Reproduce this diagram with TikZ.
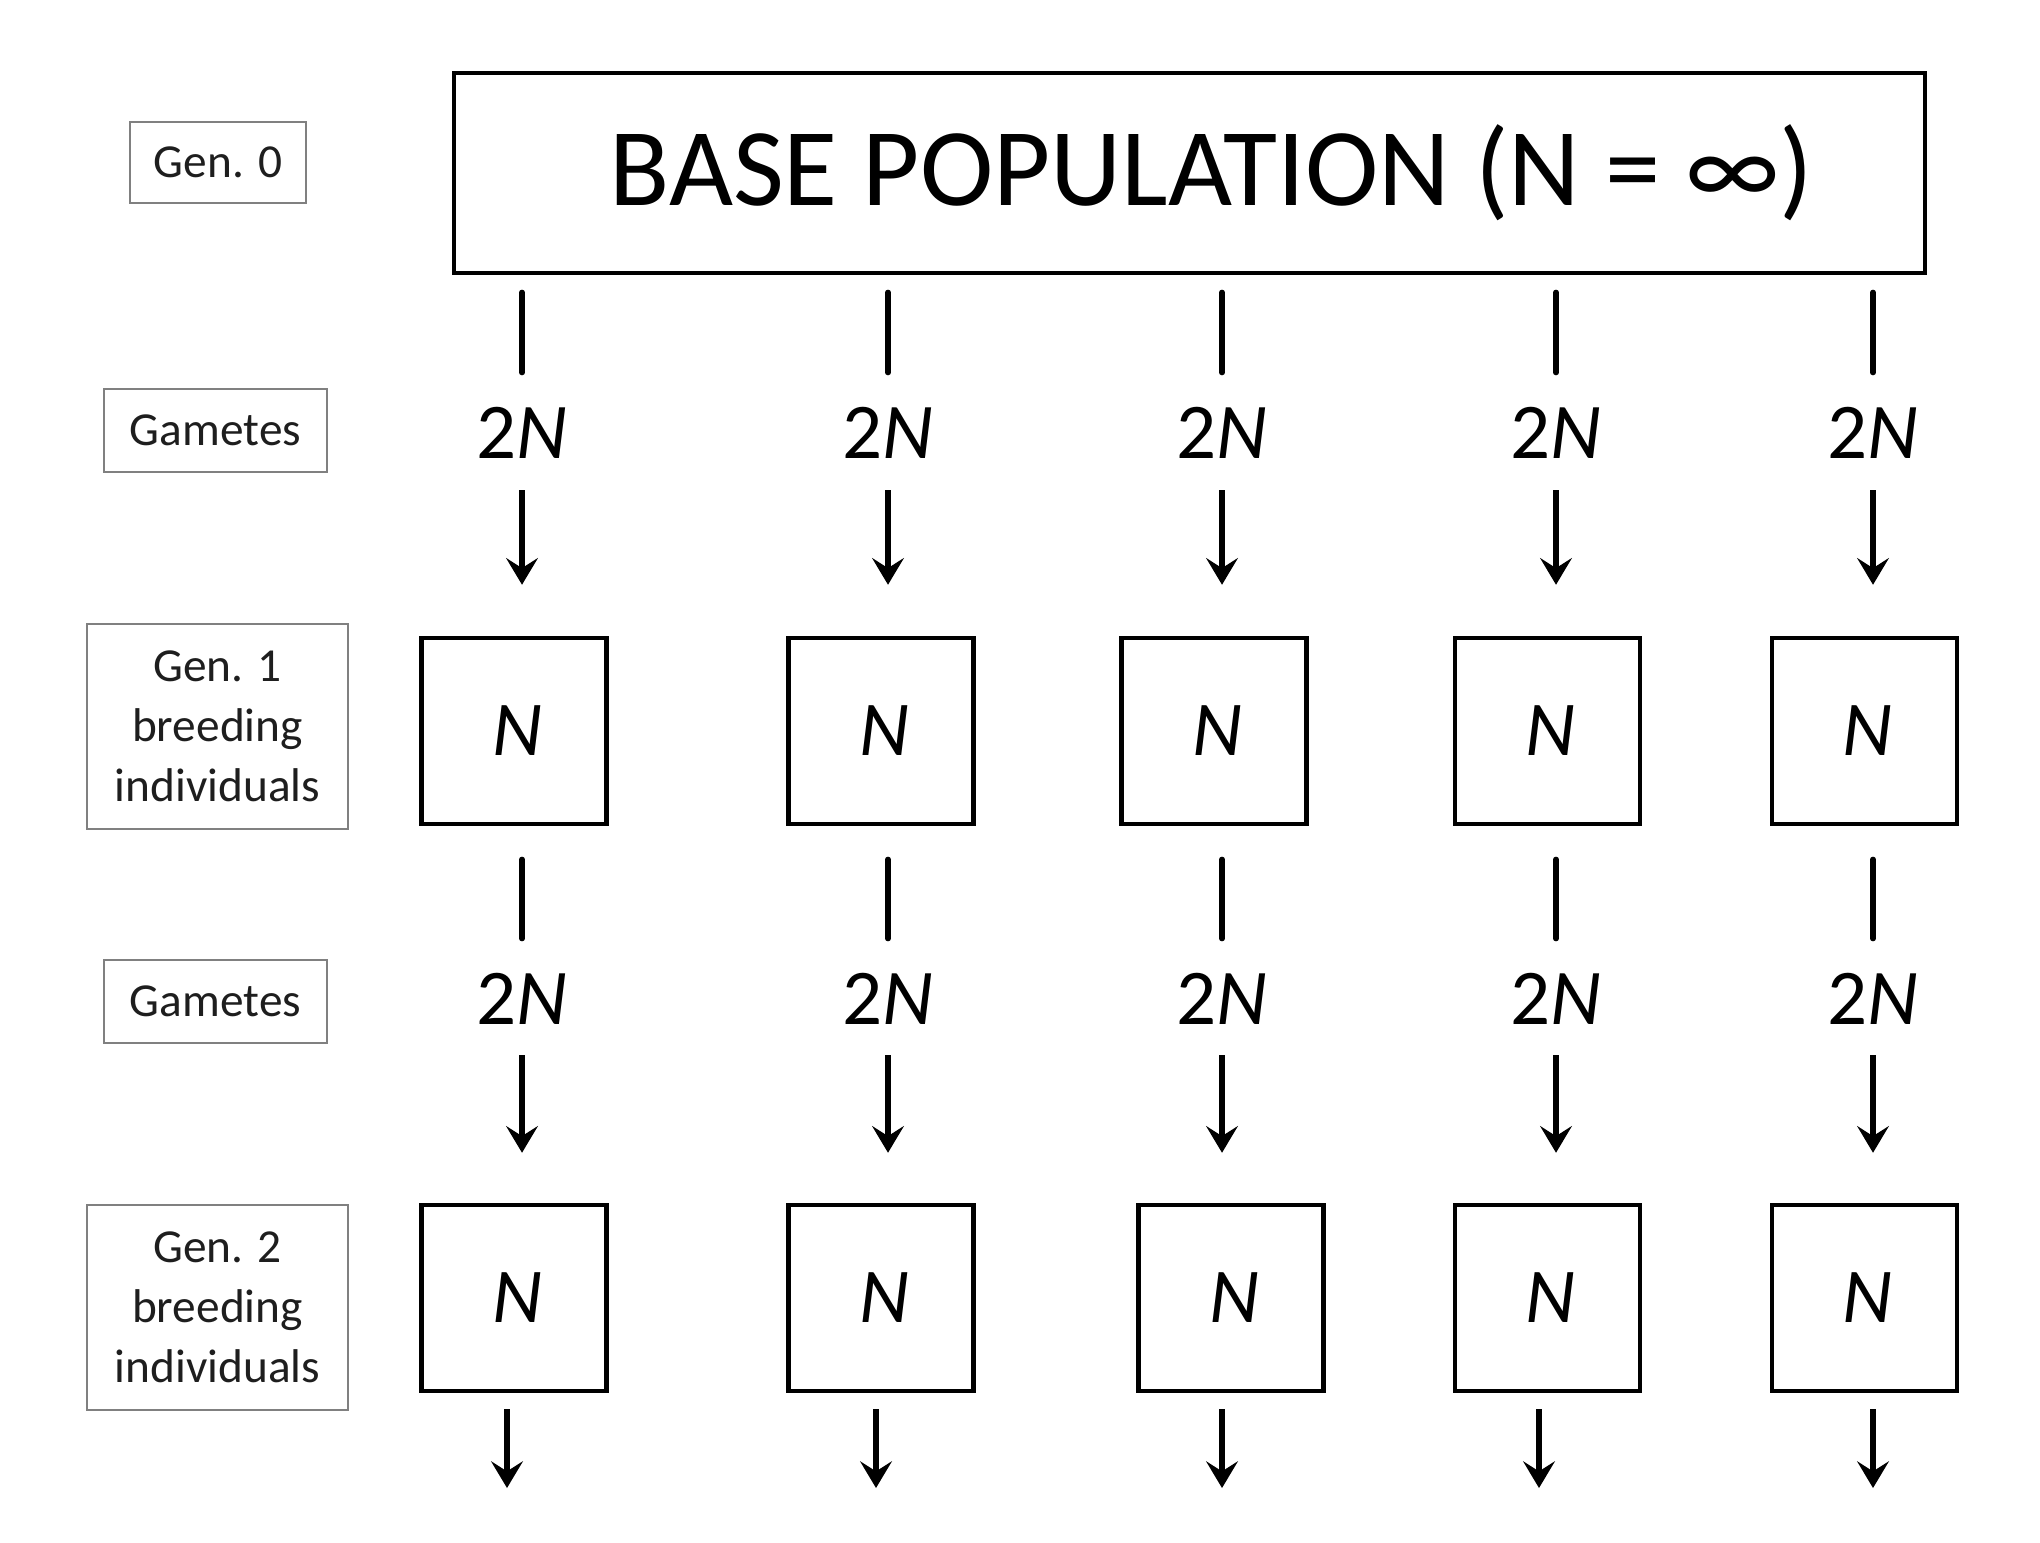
\documentclass[tikz,border=0pt]{standalone}
\usepackage{fontspec}
\setmainfont{Carlito}
\usetikzlibrary{arrows.meta}
\definecolor{labgray}{RGB}{128,128,128}
\definecolor{txt}{RGB}{30,30,30}
\tikzset{
  lab/.style={draw=labgray, line width=0.8pt, inner sep=0pt, align=center, text=txt,
    font=\fontsize{14.2pt}{18pt}\selectfont},
  popbox/.style={draw=black, line width=1.35pt, minimum width=55.5pt, minimum height=55.8pt, inner sep=0pt,
    font=\fontsize{23.3pt}{26pt}\selectfont\itshape},
  gam/.style={inner sep=0pt, font=\fontsize{23.7pt}{26pt}\selectfont},
  link/.style={line width=1.55pt, line cap=round},
  arr/.style={line width=1.55pt, -{Stealth[length=8pt, width=9.5pt, inset=3pt]}},
}
\begin{document}
\begin{tikzpicture}[x=0.3pt, y=-0.3pt]
\useasboundingbox (0,0) rectangle (2040,1542);
\fill[white] (0,0) rectangle (2040,1542);

% side labels
\node[lab, minimum width=52.8pt, minimum height=24.3pt] (l0) at (218,162.5) {Gen. 0};
\node[lab, minimum width=66.9pt, minimum height=24.9pt] (l1) at (215.5,430.5) {Gametes};
\node[lab, minimum width=78.3pt, minimum height=61.5pt] (l2) at (217.5,726.5) {Gen. 1\\breeding\\individuals};
\node[lab, minimum width=66.9pt, minimum height=24.9pt] (l3) at (215.5,1001.5) {Gametes};
\node[lab, minimum width=78.3pt, minimum height=61.5pt] (l4) at (217.5,1307.5) {Gen. 2\\breeding\\individuals};

% base population
\node[draw=black, line width=1.35pt, minimum width=441.3pt, minimum height=60pt, inner sep=0pt,
  font=\fontsize{33.2pt}{36pt}\selectfont] (base) at (1189.5,173)
  {\hspace*{13.2pt}BASE POPULATION (N = ∞)};

% columns
\foreach \i/\x/\bxa/\bxb/\ex in {1/522/514/514/507, 2/888/881/881/876, 3/1222/1214/1231/1222, 4/1556/1547.5/1547.5/1539, 5/1873/1864.5/1864.5/1873}{
  \node[gam] (ga\i) at (\x,433) {2\textit{N}};
  \node[popbox] (ba\i) at (\bxa,731) {\hspace*{2pt}N};
  \node[gam] (gb\i) at (\x,999) {2\textit{N}};
  \node[popbox] (bb\i) at (\bxb,1298) {\hspace*{2pt}N};
  \coordinate (end\i) at (\ex,1488);
  \draw[link, shorten <=5.1pt, shorten >=10.2pt] (base.south -| ga\i) -- (ga\i.north);
  \draw[arr, shorten <=9.3pt, shorten >=15.3pt] (ga\i.south) -- (ga\i.south |- ba\i.north);
  \draw[link, shorten <=9.9pt, shorten >=10.2pt] (ba\i.south -| gb\i) -- (gb\i.north);
  \draw[arr, shorten <=9pt, shorten >=15pt] (gb\i.south) -- (gb\i.south |- bb\i.north);
  \draw[arr, shorten <=4.8pt] (bb\i.south -| end\i) -- (end\i);
}
\end{tikzpicture}
\end{document}
